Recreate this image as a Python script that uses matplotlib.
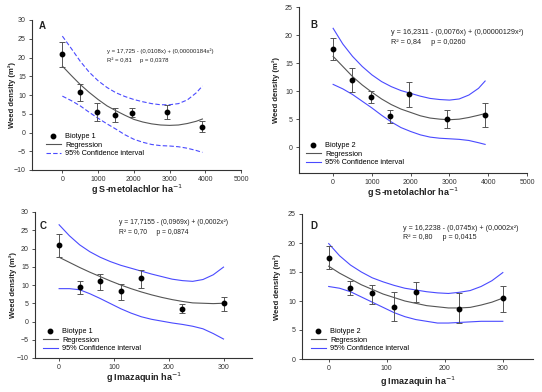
import matplotlib
matplotlib.use("Agg")
import matplotlib.pyplot as plt
from matplotlib.lines import Line2D

plt.rcParams['font.family'] = ['Liberation Sans', 'DejaVu Sans']

# ---------------- data ----------------
# Panel A: S-metolachlor, biotype 1
a_x = [0, 490, 980, 1470, 1960, 2940, 3920]
a_y = [21.0, 10.7, 5.5, 4.7, 5.3, 5.4, 1.5]
a_lo = [17.6, 8.5, 3.2, 2.8, 4.1, 3.6, 0.1]
a_hi = [24.2, 13.0, 7.8, 6.5, 6.5, 7.4, 3.0]
a_cx = [0, 250, 500, 750, 1000, 1250, 1500, 1750, 2000, 2250, 2500, 2750, 3000, 3250, 3500, 3750, 3920]
a_fit = [17.7, 15.2, 12.8, 10.7, 8.8, 7.1, 5.8, 4.6, 3.5, 2.8, 2.3, 2.0, 1.9, 2.0, 2.4, 3.0, 3.6]
a_up = [25.7, 22.4, 19.0, 16.1, 13.8, 12.0, 10.6, 9.6, 8.8, 8.2, 7.7, 7.4, 7.4, 7.7, 8.7, 10.6, 12.4]
a_dn = [9.7, 8.5, 7.1, 5.4, 3.8, 2.3, 0.9, -0.6, -1.8, -2.6, -3.2, -3.5, -3.6, -3.8, -4.2, -4.8, -5.3]

# Panel B: S-metolachlor, biotype 2
b_x = [0, 490, 980, 1470, 1960, 2940, 3920]
b_y = [17.5, 12.0, 9.0, 5.5, 9.5, 5.0, 5.8]
b_lo = [15.5, 9.9, 7.8, 4.3, 7.2, 3.4, 3.6]
b_hi = [19.5, 14.1, 10.0, 6.6, 11.6, 6.6, 7.9]
b_cx = [0, 250, 500, 750, 1000, 1250, 1500, 1750, 2000, 2250, 2500, 2750, 3000, 3250, 3500, 3750, 3920]
b_fit = [16.2, 14.4, 12.6, 11.1, 9.8, 8.6, 7.6, 6.8, 6.2, 5.6, 5.2, 5.0, 4.9, 5.0, 5.3, 5.7, 6.0]
b_up = [21.2, 18.4, 16.2, 14.4, 12.9, 11.7, 10.8, 10.1, 9.6, 9.1, 8.7, 8.5, 8.4, 8.6, 9.3, 10.5, 11.8]
b_dn = [11.2, 10.4, 9.4, 8.2, 7.0, 5.7, 4.5, 3.5, 2.8, 2.2, 1.8, 1.6, 1.5, 1.4, 1.2, 0.8, 0.5]

# Panel C: imazaquin, biotype 1
c_x = [0, 37.5, 75, 112.5, 150, 225, 300]
c_y = [20.9, 9.5, 11.0, 8.3, 11.8, 3.5, 5.0]
c_lo = [17.7, 7.6, 8.7, 5.9, 9.2, 2.2, 3.0]
c_hi = [24.0, 11.2, 13.0, 10.4, 14.0, 4.9, 6.8]
c_cx = [0, 18.75, 37.5, 56.25, 75, 93.75, 112.5, 131.25, 150, 168.75, 187.5, 206.25, 225, 243.75, 262.5, 281.25, 300]
c_fit = [17.6, 16.2, 14.8, 13.5, 12.3, 11.1, 10.0, 9.0, 8.1, 7.3, 6.6, 6.0, 5.5, 5.1, 5.0, 4.9, 5.0]
c_up = [26.5, 23.5, 21.0, 19.1, 17.6, 16.4, 15.4, 14.6, 13.8, 13.0, 12.3, 11.6, 11.2, 11.0, 11.5, 12.8, 14.9]
c_dn = [9.0, 9.0, 8.7, 7.6, 6.3, 4.9, 3.5, 2.3, 1.3, 0.6, 0.1, -0.4, -0.8, -1.3, -2.0, -3.3, -4.8]

# Panel D: imazaquin, biotype 2
d_x = [0, 37.5, 75, 112.5, 150, 225, 300]
d_y = [17.5, 12.2, 11.3, 9.0, 11.5, 8.7, 10.5]
d_lo = [15.5, 11.1, 9.5, 6.5, 9.8, 6.2, 8.1]
d_hi = [19.5, 13.5, 12.8, 11.5, 13.2, 11.4, 12.6]
d_cx = [0, 18.75, 37.5, 56.25, 75, 93.75, 112.5, 131.25, 150, 168.75, 187.5, 206.25, 225, 243.75, 262.5, 281.25, 300]
d_fit = [16.0, 14.8, 13.8, 12.8, 12.0, 11.2, 10.6, 10.0, 9.6, 9.2, 9.0, 8.8, 8.8, 8.9, 9.3, 9.8, 10.5]
d_up = [19.9, 17.8, 16.2, 15.0, 14.0, 13.3, 12.7, 12.2, 11.9, 11.6, 11.4, 11.3, 11.5, 11.8, 12.5, 13.5, 14.9]
d_dn = [12.5, 12.2, 11.6, 10.7, 9.8, 8.9, 8.0, 7.3, 6.8, 6.5, 6.2, 6.2, 6.3, 6.4, 6.5, 6.5, 6.5]

a_eq = ["y = 17,725 - (0,0108x) + (0,00000184x²)", "R² = 0,81     p = 0,0378"]
b_eq = ["y = 16,2311 - (0,0076x) + (0,00000129x²)", "R² = 0,84     p = 0,0260"]
c_eq = ["y = 17,7155 - (0,0969x) + (0,0002x²)", "R² = 0,70     p = 0,0874"]
d_eq = ["y = 16,2238 - (0,0745x) + (0,0002x²)", "R² = 0,80     p = 0,0415"]

# ---------------- figure ----------------
W, H = 542, 392
fig = plt.figure(figsize=(W / 100, H / 100), dpi=100)
fig.patch.set_facecolor('white')

REG = '#555555'
CI = '#4a4aff'
TXT = '#222222'


def ax_px(l, t, r, b):
    return fig.add_axes([l / W, 1 - b / H, (r - l) / W, (b - t) / H])


def panel(box, xs, ys, lo, hi, cx, fit, up, dn, xlim, ylim, xticks, yticks,
          label, eq, eqpos, leg_pos, biotype, xlabel, ls, eqsize, ylab_x, xlab_y):
    ax = ax_px(*box)
    l, t, r, b = box
    ax.set_xlim(*xlim)
    ax.set_ylim(*ylim)
    for s in ['top', 'right']:
        ax.spines[s].set_visible(False)
    for s in ['left', 'bottom']:
        ax.spines[s].set_color('#333333')
        ax.spines[s].set_linewidth(0.8)
    ax.set_xticks(xticks)
    ax.set_yticks(yticks)
    ax.tick_params(direction='out', length=2.5, width=0.6, labelsize=5,
                   colors='#333333', pad=2)
    ax.plot(cx, up, color=CI, lw=0.8, ls=ls)
    ax.plot(cx, dn, color=CI, lw=0.8, ls=ls)
    ax.plot(cx, fit, color=REG, lw=0.8)
    yerr = [[y - lo_ for y, lo_ in zip(ys, lo)], [h - y for y, h in zip(ys, hi)]]
    ax.errorbar(xs, ys, yerr=yerr, fmt='o', color='black', ms=3.2,
                ecolor='#555555', elinewidth=0.7, capsize=2.2, capthick=0.7)
    ax.set_xlabel(xlabel, fontsize=6.5, fontweight='bold', color=TXT)
    ax.set_ylabel('Weed density (m²)', fontsize=5.5, fontweight='bold', color=TXT)
    ax.yaxis.set_label_coords((ylab_x - l) / (r - l), 0.5)
    ax.xaxis.label.set_va('center')
    ax.xaxis.set_label_coords(0.5, -(xlab_y - b) / (b - t))
    ax.yaxis.label.set_va('center')
    fig.text(label[0] / W, 1 - label[1] / H, label[2], fontsize=7,
             fontweight='bold', color=TXT, va='center', ha='left')
    fig.text(eqpos[0] / W, 1 - eqpos[1] / H, eq[0], fontsize=eqsize,
             color=TXT, va='center', ha='left')
    fig.text(eqpos[0] / W, 1 - eqpos[2] / H, eq[1], fontsize=eqsize,
             color=TXT, va='center', ha='left')
    handles = [Line2D([], [], marker='o', color='black', ls='none', ms=3.2),
               Line2D([], [], color=REG, lw=0.8),
               Line2D([], [], color=CI, lw=0.8, ls=ls)]
    ax.legend(handles, [biotype, 'Regression', '95% Confidence interval'],
              loc='upper left', bbox_to_anchor=(leg_pos[0] / W, 1 - leg_pos[1] / H),
              bbox_transform=fig.transFigure, frameon=False, fontsize=5.3,
              handlelength=2.0, handletextpad=0.6, labelspacing=0.2,
              borderpad=0, borderaxespad=0)
    return ax


panel((32, 20, 241, 170), a_x, a_y, a_lo, a_hi, a_cx, a_fit, a_up, a_dn,
      (-850, 5000), (-10, 30), [0, 1000, 2000, 3000, 4000, 5000],
      [-10, -5, 0, 5, 10, 15, 20, 25, 30], (39, 26, 'A'), a_eq, (107, 51, 60),
      (46, 133), 'Biotype 1', 'g S-metolachlor ha$^{-1}$', (0, (4, 2)), 4.3, 12, 190)

panel((299, 7, 527, 173), b_x, b_y, b_lo, b_hi, b_cx, b_fit, b_up, b_dn,
      (-880, 5000), (-4.6, 25), [0, 1000, 2000, 3000, 4000, 5000],
      [0, 5, 10, 15, 20, 25], (310, 25, 'B'), b_eq, (391, 32, 43),
      (306, 142), 'Biotype 2', 'g S-metolachlor ha$^{-1}$', '-', 5.2, 276, 193)

panel((35, 212, 252, 358), c_x, c_y, c_lo, c_hi, c_cx, c_fit, c_up, c_dn,
      (-44, 352), (-10, 30), [0, 100, 200, 300],
      [-10, -5, 0, 5, 10, 15, 20, 25, 30], (40, 226, 'C'), c_eq, (119, 223, 233),
      (43, 328), 'Biotype 1', 'g Imazaquin ha$^{-1}$', '-', 4.9, 13, 378)

panel((302, 214, 533, 359), d_x, d_y, d_lo, d_hi, d_cx, d_fit, d_up, d_dn,
      (-46, 352), (0, 25), [0, 100, 200, 300],
      [0, 5, 10, 15, 20, 25], (310, 226, 'D'), d_eq, (403, 228, 238),
      (311, 328), 'Biotype 2', 'g Imazaquin ha$^{-1}$', '-', 5.1, 277, 382)

fig.savefig('out.png', dpi=100, facecolor='white')
